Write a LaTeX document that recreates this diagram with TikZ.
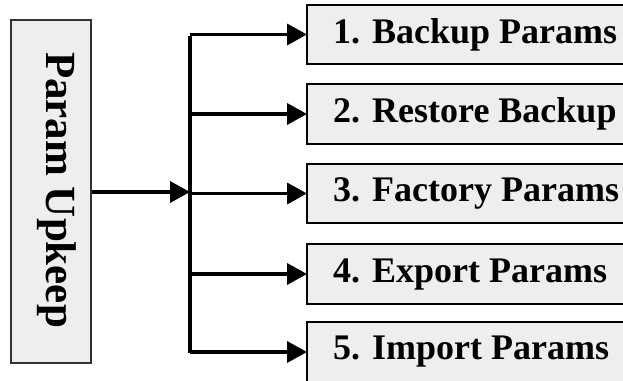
\documentclass[tikz,border=0pt]{standalone}
\usepackage{fontspec}
\setmainfont{Liberation Serif}
\usetikzlibrary{arrows.meta}
\definecolor{boxfill}{HTML}{EEEEEE}
\tikzset{
  conn/.style={line width=3.5pt, -{Triangle[length=20pt,width=21pt]}},
  bus/.style={line width=3.5pt},
  itembox/.style={draw=black, line width=2.5pt, fill=boxfill},
  itemtext/.style={anchor=west, inner sep=0pt, font=\bfseries\fontsize{36}{40}\selectfont},
  mainbox/.style={draw=black!80, line width=1.8pt, fill=boxfill, minimum width=80pt, minimum height=343pt, inner sep=0pt},
}
\begin{document}
\begin{tikzpicture}[x=1pt, y=-1pt]
\useasboundingbox (0,0) rectangle (623,380);
\clip (0,0) rectangle (623,380);
\node[mainbox] (main) at (51,191.5) {};
\node[rotate=-90, inner sep=0pt, font=\bfseries\fontsize{43}{46}\selectfont] (mainlabel) at (57,190) {Param Upkeep};
\coordinate (split) at (190,192);
\coordinate (bustop) at (190,38);
\coordinate (busbot) at (190,351);
\draw[bus, line cap=rect] (bustop) -- (busbot);
\draw[conn] (main.east |- split) -- (split);
\foreach \i/\yt/\yb/\txt in {1/5/64/{1. Backup Params},2/84/144/{2. Restore Backup},3/164/223/{3. Factory Params},4/244/304/{4. Export Params},5/322/382/{5. Import Params}}{
  \path[itembox] (307,\yt) rectangle (645,\yb);
  \coordinate (b\i) at (307,{(\yt+\yb)/2});
  \node[itemtext] (t\i) at (333,{(\yt+\yb)/2}) {\txt};
  \draw[conn] (bustop |- b\i) -- (b\i);
}
\end{tikzpicture}
\end{document}
